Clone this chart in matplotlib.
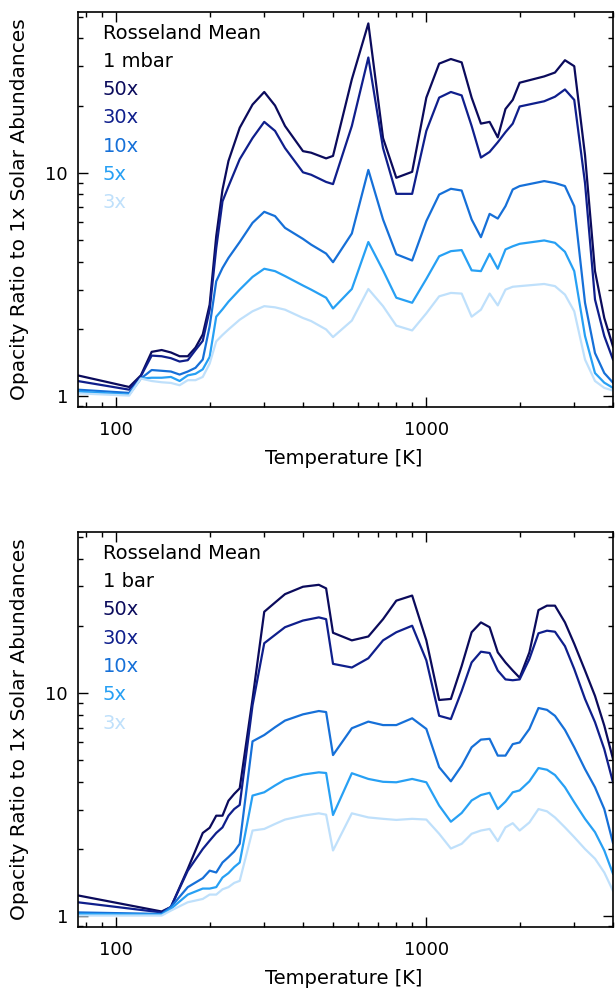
import numpy as np
import matplotlib
matplotlib.use('Agg')
import matplotlib.pyplot as plt
from matplotlib import ticker

plt.rcParams['font.family'] = ['DejaVu Sans']

# 1 mbar 패널 (위)
T_top = [75, 110, 120, 130, 140, 150, 160, 170, 180, 190, 200, 210, 220, 230, 250,
         275, 300, 325, 350, 400, 425, 475, 500, 575, 650, 725, 800, 900, 1000,
         1100, 1200, 1300, 1400, 1500, 1600, 1700, 1800, 1900, 2000, 2400, 2600,
         2800, 3000, 3250, 3500, 3750, 4000]
top_50x = [1.24, 1.10, 1.24, 1.58, 1.61, 1.57, 1.51, 1.51, 1.65, 1.89, 2.57, 5.2, 8.4, 11.3, 15.9,
           20.2, 23.0, 20.0, 16.2, 12.5, 12.3, 11.6, 11.9, 26.2, 46.6, 14.3, 9.5, 10.1, 21.7,
           30.8, 32.3, 31.2, 21.7, 16.6, 16.9, 14.4, 19.3, 21.2, 25.3, 27.0, 28.1,
           31.9, 30.0, 12.0, 3.63, 2.24, 1.67]
top_30x = [1.17, 1.07, 1.23, 1.52, 1.51, 1.48, 1.43, 1.45, 1.61, 1.77, 2.44, 4.6, 7.45, 8.7, 11.5,
           14.3, 16.9, 15.4, 12.9, 10.05, 9.8, 9.1, 8.9, 16.2, 32.8, 12.9, 8.05, 8.05, 15.4,
           21.7, 23.0, 22.2, 16.2, 11.7, 12.4, 13.7, 15.2, 16.6, 19.8, 20.9, 21.9,
           23.6, 21.2, 9.0, 2.71, 1.86, 1.46]
top_10x = [1.07, 1.035, 1.20, 1.31, 1.30, 1.29, 1.25, 1.29, 1.34, 1.46, 2.06, 3.27, 3.75, 4.16, 4.9,
           5.97, 6.69, 6.4, 5.67, 5.06, 4.77, 4.35, 3.98, 5.35, 10.3, 6.18, 4.32, 4.05, 6.08,
           7.99, 8.48, 8.33, 6.18, 5.15, 6.55, 6.24, 7.09, 8.42, 8.72, 9.18, 9.0,
           8.72, 7.09, 2.62, 1.56, 1.27, 1.15]
top_5x = [1.05, 1.017, 1.20, 1.21, 1.21, 1.22, 1.17, 1.24, 1.26, 1.32, 1.5, 2.27, 2.45, 2.65, 3.0,
          3.42, 3.72, 3.63, 3.45, 3.13, 3.0, 2.76, 2.47, 3.02, 4.9, 3.66, 2.76, 2.62, 3.35,
          4.23, 4.46, 4.51, 3.66, 3.63, 4.34, 3.72, 4.54, 4.69, 4.81, 4.98, 4.86,
          4.43, 3.63, 1.86, 1.27, 1.15, 1.09]
top_3x = [1.03, 1.007, 1.20, 1.17, 1.155, 1.147, 1.12, 1.18, 1.18, 1.22, 1.4, 1.76, 1.88, 1.99, 2.2,
          2.40, 2.53, 2.50, 2.44, 2.24, 2.17, 1.99, 1.84, 2.18, 3.02, 2.53, 2.07, 1.97, 2.35,
          2.80, 2.90, 2.88, 2.27, 2.44, 2.88, 2.55, 3.0, 3.09, 3.11, 3.18, 3.11,
          2.85, 2.40, 1.46, 1.17, 1.09, 1.06]

# 1 bar 패널 (아래)
T_bot = [75, 140, 150, 170, 190, 200, 210, 220, 230, 240, 250, 275, 300, 325, 350,
         400, 450, 475, 500, 575, 650, 725, 800, 900, 1000, 1100, 1200, 1300, 1400,
         1500, 1600, 1700, 1800, 1900, 2000, 2150, 2300, 2450, 2600, 2800, 3000,
         3250, 3500, 3750, 4000]
bot_50x = [1.24, 1.05, 1.10, 1.63, 2.36, 2.49, 2.82, 2.82, 3.29, 3.53, 3.74, 9.4, 23.1, 25.4, 27.7,
           29.9, 30.5, 29.4, 18.6, 17.2, 17.9, 21.4, 25.9, 27.3, 17.2, 9.3, 9.4, 13.2, 18.7,
           20.7, 19.7, 15.2, 13.7, 12.6, 11.7, 15.2, 23.5, 24.6, 24.6, 20.7, 16.6,
           12.6, 9.7, 7.14, 5.07]
bot_30x = [1.155, 1.04, 1.10, 1.60, 2.0, 2.18, 2.36, 2.5, 2.82, 3.02, 3.15, 8.8, 16.7, 18.2, 19.7,
           21.1, 21.8, 21.4, 13.5, 13.0, 14.3, 17.2, 18.7, 20.0, 14.0, 7.9, 7.64, 10.2, 13.7,
           15.3, 15.1, 12.6, 11.5, 11.4, 11.5, 14.2, 18.5, 19.0, 18.8, 16.2, 12.8,
           9.4, 7.4, 5.6, 3.98]
bot_10x = [1.04, 1.024, 1.10, 1.35, 1.48, 1.60, 1.57, 1.74, 1.84, 1.95, 2.11, 6.07, 6.48, 7.02, 7.52,
           8.02, 8.30, 8.21, 5.27, 6.95, 7.44, 7.18, 7.18, 7.70, 6.9, 4.65, 4.02, 4.72, 5.71,
           6.18, 6.23, 5.24, 5.24, 5.9, 6.0, 6.9, 8.56, 8.4, 7.9, 6.83, 5.71,
           4.56, 3.78, 3.02, 2.13]
bot_5x = [1.024, 1.017, 1.08, 1.25, 1.33, 1.33, 1.35, 1.49, 1.56, 1.66, 1.74, 3.47, 3.59, 3.85, 4.09,
          4.31, 4.41, 4.38, 2.84, 4.37, 4.12, 4.0, 3.98, 4.12, 3.98, 3.13, 2.65, 2.90, 3.30,
          3.49, 3.57, 3.02, 3.26, 3.59, 3.66, 4.02, 4.61, 4.53, 4.29, 3.78, 3.24,
          2.73, 2.38, 1.97, 1.55]
bot_3x = [1.007, 1.007, 1.06, 1.155, 1.195, 1.25, 1.25, 1.32, 1.35, 1.41, 1.44, 2.42, 2.46, 2.59, 2.71,
          2.82, 2.89, 2.85, 1.97, 2.89, 2.77, 2.73, 2.70, 2.73, 2.71, 2.34, 2.01, 2.11, 2.34,
          2.42, 2.46, 2.17, 2.50, 2.61, 2.42, 2.63, 3.02, 2.95, 2.77, 2.50, 2.26,
          2.0, 1.81, 1.57, 1.30]

labels = ['50x', '30x', '10x', '5x', '3x']
colors = ['#0b0b5c', '#0f1f8c', '#1670d8', '#27a0f4', '#bfe0fb']

fig = plt.figure(figsize=(6.15, 9.91), dpi=100)

panels = [
    (T_top, [top_50x, top_30x, top_10x, top_5x, top_3x], '1 mbar', [0.1262, 0.5893, 0.8705, 0.3989]),
    (T_bot, [bot_50x, bot_30x, bot_10x, bot_5x, bot_3x], '1 bar', [0.1262, 0.0646, 0.8705, 0.3986]),
]

fmt = ticker.FuncFormatter(lambda v, p: '%g' % v)

for T, series, plabel, rect in panels:
    ax = fig.add_axes(rect)
    for y, c in zip(series, colors):
        ax.plot(T, y, color=c, lw=1.6)
    ax.set_xscale('log')
    ax.set_yscale('log')
    ax.set_xlim(75, 4000)
    ax.set_ylim(0.895, 52.6)
    ax.xaxis.set_major_formatter(fmt)
    ax.yaxis.set_major_formatter(fmt)
    ax.xaxis.set_minor_formatter(ticker.NullFormatter())
    ax.yaxis.set_minor_formatter(ticker.NullFormatter())
    ax.tick_params(which='both', direction='in', top=True, right=True, labelsize=13, width=1.0)
    ax.tick_params(which='major', length=7)
    ax.tick_params(which='minor', length=3.5)
    ax.tick_params(axis='x', pad=10)
    ax.tick_params(axis='y', pad=7)
    for s in ax.spines.values():
        s.set_linewidth(1.2)

    # 범례 대신 텍스트
    y0 = 0.932
    dy = 0.0716
    ax.text(0.047, y0, 'Rosseland Mean', transform=ax.transAxes, fontsize=14, va='baseline', color='black')
    ax.text(0.047, y0 - dy, plabel, transform=ax.transAxes, fontsize=14, va='baseline', color='black')
    for i, (lab, c) in enumerate(zip(labels, colors)):
        ax.text(0.047, y0 - dy * (i + 2), lab, transform=ax.transAxes, fontsize=14, va='baseline', color=c)

    bottom_px = (1 - rect[1]) * 991
    mid_px = (1 - rect[1] - rect[3] / 2) * 991
    fig.text(344 / 615, 1 - (bottom_px + 57) / 991, 'Temperature [K]', ha='center', va='baseline', fontsize=14)
    fig.text(20 / 615, 1 - mid_px / 991, 'Opacity Ratio to 1x Solar Abundances', rotation=90,
             ha='center', va='center', fontsize=14.5)

fig.savefig('out.png', dpi=100)
